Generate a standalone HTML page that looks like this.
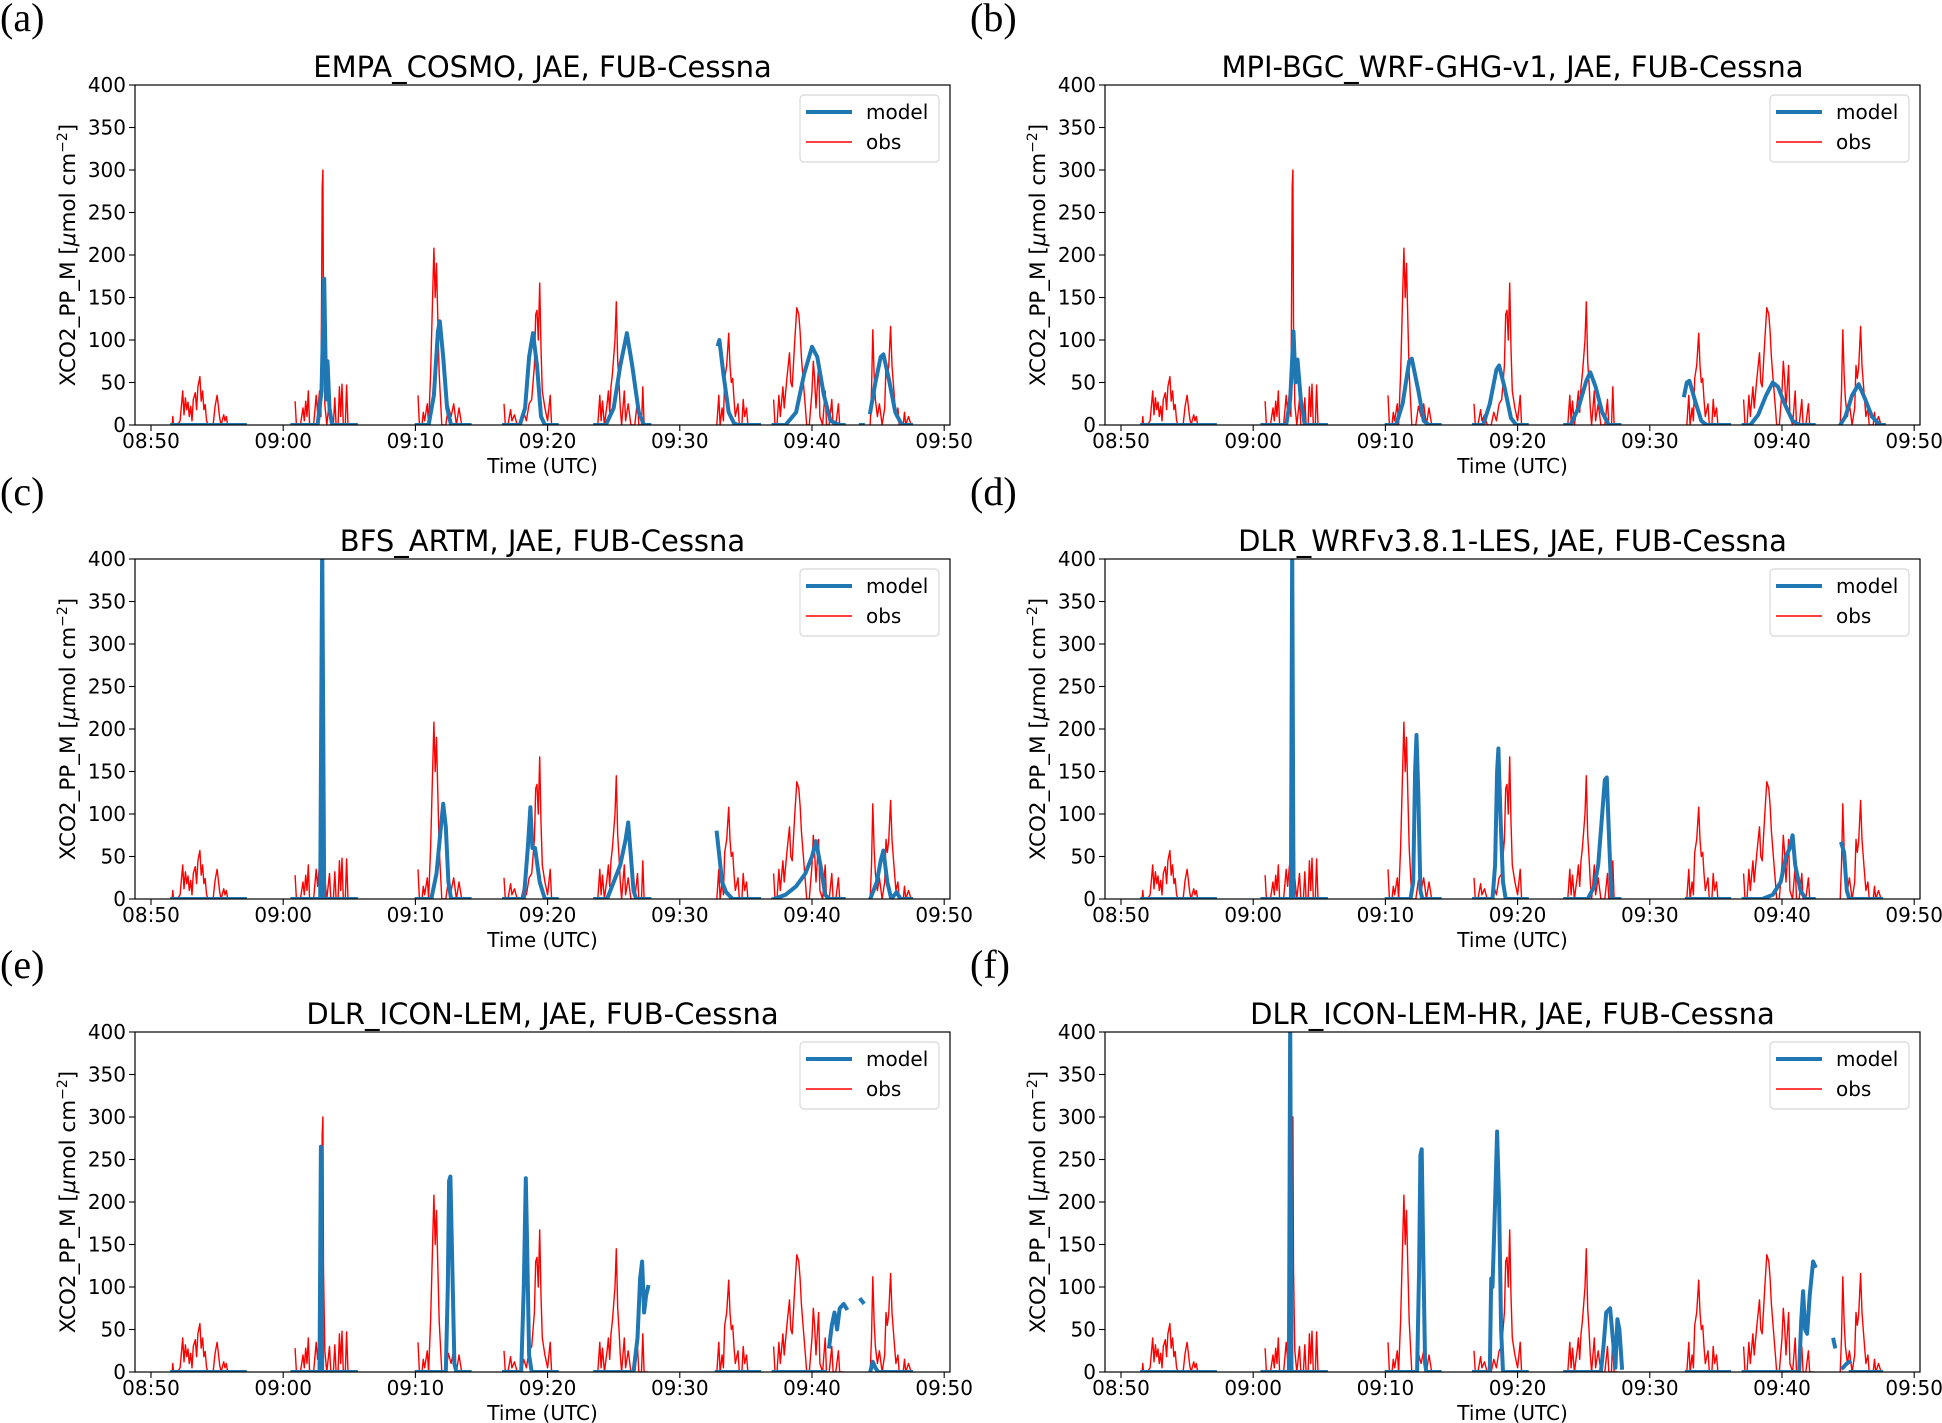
<!DOCTYPE html>
<html><head><meta charset="utf-8">
<style>
body{margin:0;background:#fff;}
svg{display:block;}
text{font-family:"DejaVu Sans","Liberation Sans",sans-serif;fill:#000;}
.lab{font-family:"Liberation Serif","DejaVu Serif",serif;font-size:40px;}
</style></head>
<body>
<svg id="fig" width="1942" height="1423" viewBox="0 0 1942 1423" xmlns="http://www.w3.org/2000/svg"></svg>
<script>
// minutes since 08:50
const xTickLabels = ["08:50","09:00","09:10","09:20","09:30","09:40","09:50"];
const xTickValues = [0,10,20,30,40,50,60];
const yTickValues = [0,50,100,150,200,250,300,350,400];
const panelLetters = ["(a)","(b)","(c)","(d)","(e)","(f)"];
const panelTitles = ["EMPA_COSMO, JAE, FUB-Cessna","MPI-BGC_WRF-GHG-v1, JAE, FUB-Cessna","BFS_ARTM, JAE, FUB-Cessna","DLR_WRFv3.8.1-LES, JAE, FUB-Cessna","DLR_ICON-LEM, JAE, FUB-Cessna","DLR_ICON-LEM-HR, JAE, FUB-Cessna"];

const obsSegments = [
[[1.6,0],[1.65,10],[1.7,0],[2.0,0],[2.2,5],[2.4,40],[2.5,12],[2.6,32],[2.7,18],[2.8,27],[2.9,10],[3.0,22],[3.1,5],[3.2,30],[3.35,38],[3.45,18],[3.55,45],[3.7,57],[3.8,28],[3.9,40],[4.0,18],[4.1,24],[4.2,6],[4.3,0],[4.7,0],[4.85,22],[5.0,35],[5.1,22],[5.2,8],[5.3,0],[5.5,12],[5.6,5],[5.7,10],[5.8,0],[6.6,0]],
[[10.9,28],[11.0,0],[11.3,0],[11.5,20],[11.6,5],[11.7,28],[11.8,10],[11.9,40],[12.0,0],[12.3,0],[12.5,35],[12.6,15],[12.75,40],[12.85,10],[12.95,280],[13.0,300],[13.05,120],[13.15,25],[13.3,0],[13.5,30],[13.6,0],[13.8,0],[13.9,32],[14.0,0],[14.15,0],[14.25,45],[14.35,10],[14.45,48],[14.55,0],[14.7,0],[14.8,47],[14.9,0],[15.0,0]],
[[20.2,35],[20.3,0],[20.5,0],[20.6,15],[20.7,5],[20.9,25],[21.0,0],[21.15,60],[21.3,150],[21.4,208],[21.5,150],[21.6,190],[21.7,120],[21.8,60],[21.9,30],[22.0,0],[22.3,0],[22.5,22],[22.7,10],[22.9,25],[23.1,0],[23.3,20],[23.5,0]],
[[26.7,25],[26.8,0],[27.0,0],[27.2,18],[27.3,5],[27.5,12],[27.7,0],[28.0,0],[28.2,15],[28.4,5],[28.6,25],[28.8,30],[29.0,70],[29.1,130],[29.2,135],[29.3,100],[29.4,167],[29.5,90],[29.6,40],[29.8,20],[30.0,5],[30.2,35],[30.3,0],[30.4,0]],
[[33.8,0],[33.95,35],[34.05,5],[34.15,28],[34.3,0],[34.5,25],[34.6,40],[34.7,15],[34.8,45],[34.9,60],[35.0,80],[35.1,100],[35.2,145],[35.3,75],[35.4,50],[35.5,20],[35.6,0],[35.8,40],[35.9,5],[36.1,25],[36.3,0],[36.6,0],[36.8,30],[36.9,0],[37.1,0],[37.2,45],[37.3,0],[37.6,0]],
[[42.8,0],[42.95,35],[43.05,0],[43.2,20],[43.3,5],[43.4,55],[43.55,70],[43.7,108],[43.8,70],[43.9,50],[44.0,55],[44.1,30],[44.2,10],[44.4,25],[44.5,0],[44.7,0],[44.8,30],[44.9,10],[45.05,20],[45.15,0],[45.3,0]],
[[47.1,30],[47.2,0],[47.35,0],[47.5,35],[47.6,10],[47.8,45],[47.9,20],[48.1,55],[48.3,85],[48.4,50],[48.5,45],[48.7,100],[48.85,138],[49.0,130],[49.1,110],[49.2,80],[49.3,60],[49.5,20],[49.6,0],[49.8,0],[50.0,40],[50.1,75],[50.2,55],[50.3,20],[50.5,70],[50.6,10],[50.8,0],[51.0,40],[51.1,0],[51.3,0],[51.5,30],[51.6,0],[51.8,0],[52.0,25],[52.1,0],[52.4,0]],
[[54.4,0],[54.5,40],[54.6,112],[54.7,60],[54.8,30],[54.95,10],[55.1,25],[55.3,0],[55.5,20],[55.6,70],[55.7,55],[55.8,68],[55.95,116],[56.05,70],[56.2,40],[56.35,10],[56.5,20],[56.6,0],[56.9,0],[57.0,15],[57.1,0],[57.3,10],[57.5,0]]
];

const modelA = [
[[1.6,0],[7.1,0]],
[[10.7,0],[12.6,0],[12.9,40],[13.1,172],[13.25,30],[13.35,75],[13.5,20],[13.7,0],[15.5,0]],
[[20.1,0],[21.0,0],[21.4,35],[21.7,110],[21.85,122],[22.1,80],[22.4,20],[22.7,0],[24.1,0]],
[[26.7,0],[27.9,0],[28.3,20],[28.6,80],[28.9,108],[29.2,70],[29.5,10],[29.8,0],[30.7,0]],
[[33.6,0],[34.4,0],[35.0,20],[35.5,70],[36.0,108],[36.4,70],[36.9,15],[37.3,0],[37.7,0]],
[[42.9,95],[43.0,100],[43.3,60],[43.7,15],[44.1,2],[44.4,0],[46.0,0]],
[[47.1,0],[48.0,0],[48.8,15],[49.4,60],[50.0,92],[50.4,80],[50.9,35],[51.4,5],[52.1,0],[52.4,0]],
[[53.7,0],[53.85,0]],
[[54.4,15],[54.8,50],[55.2,80],[55.4,83],[55.8,55],[56.3,15],[56.8,0],[57.5,0]]
];
const modelB = [
[[1.6,0],[7.1,0]],
[[10.7,0],[12.5,0],[12.8,30],[13.05,110],[13.2,50],[13.35,77],[13.6,30],[13.9,0],[15.5,0]],
[[20.1,0],[20.8,0],[21.3,25],[21.8,75],[22.0,78],[22.5,40],[22.9,5],[23.3,0],[24.1,0]],
[[26.7,0],[27.4,0],[27.9,25],[28.4,65],[28.6,70],[29.0,45],[29.5,8],[29.9,0],[30.7,0]],
[[33.6,0],[34.0,0],[34.6,20],[35.2,52],[35.5,62],[35.9,45],[36.4,15],[36.9,0],[37.7,0]],
[[42.6,35],[42.8,50],[43.0,52],[43.4,30],[43.9,5],[44.3,0],[46.0,0]],
[[47.1,0],[47.6,0],[48.2,12],[48.8,35],[49.3,50],[49.7,45],[50.2,25],[50.8,5],[51.3,0],[52.4,0]],
[[54.4,0],[54.8,10],[55.3,35],[55.8,48],[56.3,30],[56.8,10],[57.4,0],[57.7,0]]
];
const modelC = [
[[1.6,0],[7.1,0]],
[[10.7,0],[12.8,0],[12.95,420],[13.1,0],[15.5,0]],
[[20.1,0],[21.2,0],[21.6,30],[21.9,80],[22.1,112],[22.3,85],[22.5,20],[22.7,0],[24.1,0]],
[[26.7,0],[28.2,0],[28.5,60],[28.7,108],[28.85,60],[29.05,60],[29.4,20],[29.8,0],[30.7,0]],
[[33.6,0],[34.5,0],[35.0,20],[35.5,40],[35.9,70],[36.1,90],[36.3,50],[36.5,10],[36.7,0],[37.7,0]],
[[42.8,78],[43.0,50],[43.2,20],[43.5,8],[44.0,0],[46.0,0]],
[[47.1,0],[48.0,5],[48.8,15],[49.5,30],[50.0,50],[50.3,68],[50.7,35],[51.0,5],[51.3,0],[52.4,0]],
[[54.4,0],[54.9,20],[55.2,45],[55.4,57],[55.7,20],[56.0,0],[56.4,8],[56.7,0],[57.5,0]]
];
const modelD = [
[[1.6,0],[7.1,0]],
[[10.7,0],[12.85,0],[12.95,420],[13.05,0],[15.5,0]],
[[20.1,0],[21.9,0],[22.1,20],[22.25,150],[22.35,193],[22.5,120],[22.65,10],[22.8,0],[24.1,0]],
[[26.7,0],[28.1,0],[28.3,40],[28.45,150],[28.55,177],[28.7,100],[28.9,20],[29.1,0],[30.7,0]],
[[33.6,0],[35.3,0],[35.8,15],[36.1,40],[36.4,100],[36.6,140],[36.75,143],[36.9,80],[37.1,0],[37.7,0]],
[[42.8,0],[46.0,0]],
[[47.1,0],[48.5,0],[49.3,5],[49.9,20],[50.3,50],[50.6,60],[50.8,75],[51.0,40],[51.4,10],[51.8,0],[52.4,0]],
[[54.5,65],[54.7,55],[54.9,10],[55.1,0],[57.5,0]]
];
const modelE = [
[[1.6,0],[7.1,0]],
[[10.7,0],[12.75,0],[12.85,265],[12.95,0],[15.5,0]],
[[20.1,0],[22.3,0],[22.45,100],[22.55,225],[22.65,230],[22.8,120],[22.95,10],[23.1,0],[24.1,0]],
[[26.7,0],[28.0,0],[28.2,100],[28.35,228],[28.45,150],[28.6,20],[28.8,0],[30.7,0]],
[[33.6,0],[36.5,0],[36.8,40],[37.0,110],[37.15,130],[37.3,70],[37.45,90],[37.6,100]],
[[42.8,0],[46.0,0]],
[[47.1,0],[51.0,0]],
[[51.3,30],[51.5,55],[51.7,70],[51.9,50],[52.1,75],[52.4,80],[52.6,75]],
[[53.7,85],[53.85,82]],
[[54.4,0],[54.6,12],[54.8,5],[55.0,0],[57.5,0]]
];
const modelF = [
[[1.6,0],[7.1,0]],
[[10.7,0],[12.7,0],[12.8,420],[12.9,0],[15.5,0]],
[[20.1,0],[22.4,0],[22.55,120],[22.65,255],[22.75,262],[22.85,150],[23.0,10],[23.1,0],[24.1,0]],
[[26.7,0],[27.9,0],[28.0,110],[28.1,100],[28.3,200],[28.45,283],[28.6,200],[28.75,50],[28.9,0],[30.7,0]],
[[33.6,0],[36.3,0],[36.5,30],[36.7,70],[37.0,75],[37.2,40],[37.4,5],[37.55,62],[37.7,50],[37.9,5]],
[[42.8,0],[46.0,0]],
[[47.1,0],[51.3,0],[51.45,60],[51.6,95],[51.75,50],[51.9,45],[52.1,90],[52.35,130],[52.5,125]],
[[53.9,38],[54.0,30]],
[[54.6,5],[54.9,10],[55.1,12]],
[[55.2,0],[57.5,0]]
];
const modelSeries = [modelA,modelB,modelC,modelD,modelE,modelF];

const NS="http://www.w3.org/2000/svg";
const svg=document.getElementById('fig');
function mk(tag,attrs,parent){const e=document.createElementNS(NS,tag);for(const k in attrs)e.setAttribute(k,attrs[k]);(parent||svg).appendChild(e);return e;}
const LEFTS=[135,1105], TOPS=[85,559,1032], W=815, H=340;
const XMIN=-1.21, XMAX=60.44, YMIN=0, YMAX=400;

function pathFrom(segs,sx,sy){
  let d="";
  segs.forEach(seg=>{seg.forEach((p,i)=>{d+=(i?"L":"M")+sx(p[0]).toFixed(1)+","+sy(p[1]).toFixed(1);});});
  return d;
}

for(let i=0;i<6;i++){
  const L=LEFTS[i%2], T=TOPS[Math.floor(i/2)];
  const sx=t=>L+(t-XMIN)/(XMAX-XMIN)*W;
  const sy=v=>T+H-(v-YMIN)/(YMAX-YMIN)*H;
  const g=mk('g',{});
  
  

  const lt=mk('text',{x:L-135,y:T-54,class:'lab'},g); lt.textContent=panelLetters[i];
  
  

  const tt=mk('text',{x:L+W/2,y:T-8,'font-size':29,'text-anchor':'middle'},g); tt.textContent=panelTitles[i];
  
  

  const cp=mk('clipPath',{id:'cp'+i},g); mk('rect',{x:L,y:T,width:W,height:H},cp);

  const obs=mk('path',{d:pathFrom(obsSegments,sx,sy),fill:'none',stroke:'#ff0000','stroke-width':1.4,'stroke-linejoin':'round','clip-path':'url(#cp'+i+')'},g);
  
  

  const mod=mk('path',{d:pathFrom(modelSeries[i],sx,sy),fill:'none',stroke:'#1f77b4','stroke-width':4,'stroke-linejoin':'round','stroke-linecap':'square','clip-path':'url(#cp'+i+')'},g);
  
  

  const fr=mk('rect',{x:L,y:T,width:W,height:H,fill:'none',stroke:'#000','stroke-width':1.2},g);
  
  

  yTickValues.forEach(v=>{
    mk('line',{x1:L-6,x2:L,y1:sy(v),y2:sy(v),stroke:'#000','stroke-width':1.1},g);
    const t=mk('text',{x:L-9,y:sy(v)+7,'font-size':20,'text-anchor':'end'},g); t.textContent=v;
    
    
  });
  xTickValues.forEach((v,k)=>{
    mk('line',{x1:sx(v),x2:sx(v),y1:T+H,y2:T+H+6,stroke:'#000','stroke-width':1.1},g);
    const t=mk('text',{x:sx(v),y:T+H+23,'font-size':20,'text-anchor':'middle'},g); t.textContent=xTickLabels[k];
    
    
  });
  const xl=mk('text',{x:L+W/2,y:T+H+48,'font-size':20,'text-anchor':'middle'},g); xl.textContent='Time (UTC)';
  
  

  const yl=mk('text',{x:0,y:0,'font-size':21.5,'text-anchor':'middle',transform:'translate('+(L-60)+','+(T+H/2)+') rotate(-90)'},g);
  yl.innerHTML='XCO2_PP_M [<tspan font-style="italic">μ</tspan>mol cm<tspan baseline-shift="super" font-size="14">−2</tspan>]';
  
  

  const lg=mk('g',{},g);
  
  
  mk('rect',{x:L+W-150,y:T+10,width:139,height:67,rx:4,fill:'#fff',stroke:'#d8d8d8','stroke-width':1.2},lg);
  mk('line',{x1:L+W-144,x2:L+W-98,y1:T+27,y2:T+27,stroke:'#1f77b4','stroke-width':4},lg);
  mk('line',{x1:L+W-144,x2:L+W-98,y1:T+57,y2:T+57,stroke:'#ff0000','stroke-width':1.4},lg);
  const l1=mk('text',{x:L+W-84,y:T+34,'font-size':20},lg); l1.textContent='model';
  
  
  const l2=mk('text',{x:L+W-84,y:T+64,'font-size':20},lg); l2.textContent='obs';
  
  
}
</script>
</body></html>
